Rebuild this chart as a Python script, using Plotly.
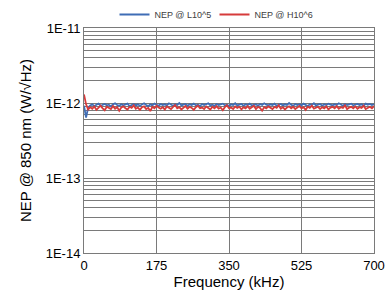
import plotly.graph_objects as go

freq = list(range(0, 701, 5))
nep_l = [9.2, 6.4, 8.6, 9.3, 9.6, 9.1, 9.5, 9.8, 9.2, 9.4,
         9.7, 9.3, 9.5, 9.0, 9.6, 9.9, 9.4, 9.2, 9.6, 9.3,
         9.5, 9.8, 9.1, 9.4, 9.7, 9.3, 9.6, 9.2, 9.5, 9.9,
         9.4, 9.1, 9.6, 9.3, 9.8, 9.5, 9.2, 9.7, 9.4, 9.6,
         9.3, 9.9, 9.5, 9.2, 9.6, 9.4, 10.0, 9.3, 9.5, 9.7,
         9.2, 9.6, 9.4, 9.8, 9.3, 9.5, 9.1, 9.7, 9.4, 9.6,
         9.9, 9.3, 9.5, 9.2, 9.7, 9.4, 9.6, 9.8, 9.3, 9.5,
         9.1, 9.6, 9.4, 9.9, 9.3, 9.5, 9.7, 9.2, 9.6, 9.4,
         9.8, 9.3, 9.5, 9.6, 9.2, 9.7, 9.4, 9.9, 9.5, 9.3,
         9.6, 9.4, 9.8, 9.2, 9.5, 9.7, 9.3, 9.6, 9.4, 10.0,
         9.5, 9.2, 9.7, 9.4, 9.6, 9.3, 9.8, 9.5, 9.1, 9.6,
         9.4, 9.9, 9.3, 9.5, 9.7, 9.2, 9.6, 9.4, 9.8, 9.5,
         9.3, 9.6, 9.4, 9.9, 9.5, 9.2, 9.7, 9.4, 9.6, 9.8,
         9.3, 9.5, 9.7, 9.4, 9.6, 9.2, 9.8, 9.5, 9.7, 9.4,
         9.6]
nep_h = [13.0, 9.6, 8.2, 8.8, 8.4, 9.0, 8.1, 8.7, 9.2, 8.5,
         8.0, 8.9, 8.6, 8.3, 9.1, 8.4, 8.8, 7.9, 8.7, 9.0,
         8.5, 8.2, 8.9, 8.6, 9.3, 8.4, 8.7, 8.1, 8.8, 9.0,
         8.3, 8.6, 7.8, 8.9, 8.5, 9.2, 8.7, 8.4, 8.8, 8.2,
         9.0, 8.6, 8.3, 8.9, 9.4, 8.5, 8.8, 8.2, 8.7, 9.1,
         8.4, 8.9, 8.6, 8.1, 8.8, 9.2, 8.5, 8.7, 8.3, 9.0,
         8.6, 8.2, 8.9, 8.5, 9.1, 8.4, 8.7, 8.0, 8.8, 9.3,
         8.5, 8.7, 8.3, 9.0, 8.6, 8.9, 8.2, 8.8, 8.5, 9.1,
         8.4, 8.7, 9.2, 8.3, 8.9, 8.6, 7.9, 8.8, 8.5, 9.0,
         8.7, 8.3, 8.9, 8.6, 9.3, 8.4, 8.8, 8.2, 8.7, 9.0,
         8.5, 8.9, 8.3, 8.7, 9.1, 8.5, 8.8, 8.1, 8.9, 8.6,
         9.2, 8.4, 8.7, 8.9, 8.3, 8.8, 8.5, 9.0, 8.2, 8.7,
         8.9, 8.5, 9.1, 8.4, 8.8, 8.6, 9.3, 8.3, 8.7, 8.9,
         8.5, 9.0, 8.4, 8.8, 8.6, 9.2, 8.3, 8.7, 8.9, 8.5,
         9.1]
nep_l = [v * 1e-13 for v in nep_l]
nep_h = [v * 1e-13 for v in nep_h]

x_ticks = [0, 175, 350, 525, 700]
y_ticks = [1e-14, 1e-13, 1e-12, 1e-11]
y_labels = ["1E-14", "1E-13", "1E-12", "1E-11"]

fig = go.Figure()
fig.add_trace(go.Scatter(x=freq, y=nep_l, mode="lines", name="NEP @ L10^5",
                         line=dict(color="#3F6DB5", width=1.8)))
fig.add_trace(go.Scatter(x=freq, y=nep_h, mode="lines", name="NEP @ H10^6",
                         line=dict(color="#D63B3B", width=1.8)))

axis_font = dict(family="Liberation Sans, Arial", size=13, color="#000000")
grid = "#7A7A7A"
fig.update_layout(
    width=390, height=301,
    margin=dict(l=84, r=16, t=28, b=48, autoexpand=False),
    paper_bgcolor="white", plot_bgcolor="white",
    font=dict(family="Liberation Sans, Arial", size=12, color="#000000"),
    legend=dict(orientation="h", x=0.55, xref="container", xanchor="center",
                y=1.0, yref="container", yanchor="top",
                font=dict(size=9, color="#404040"), itemwidth=30,
                entrywidth=55, entrywidthmode="pixels",
                bgcolor="rgba(0,0,0,0)"),
    xaxis=dict(range=[0, 700], tickvals=x_ticks, ticktext=[str(t) for t in x_ticks],
               showgrid=True, gridcolor=grid, gridwidth=1,
               showline=True, linecolor=grid, mirror=True, ticks="",
               zeroline=False, tickfont=axis_font, automargin=False,
               title=dict(text="Frequency (kHz)", font=dict(size=15), standoff=4)),
    yaxis=dict(type="log", range=[-14, -11], tickvals=y_ticks, ticktext=y_labels,
               showgrid=True, gridcolor=grid, gridwidth=1,
               showline=True, linecolor=grid, mirror=True, ticks="",
               zeroline=False, tickfont=axis_font, automargin=False,
               minor=dict(dtick="D1", showgrid=True, gridcolor=grid, gridwidth=1, ticks=""),
               title=dict(text="NEP @ 850 nm (W/√Hz)", font=dict(size=15), standoff=10)),
)
fig.write_html("out.html", config={"displayModeBar": False},
               post_script="document.body.style.margin='0';")
